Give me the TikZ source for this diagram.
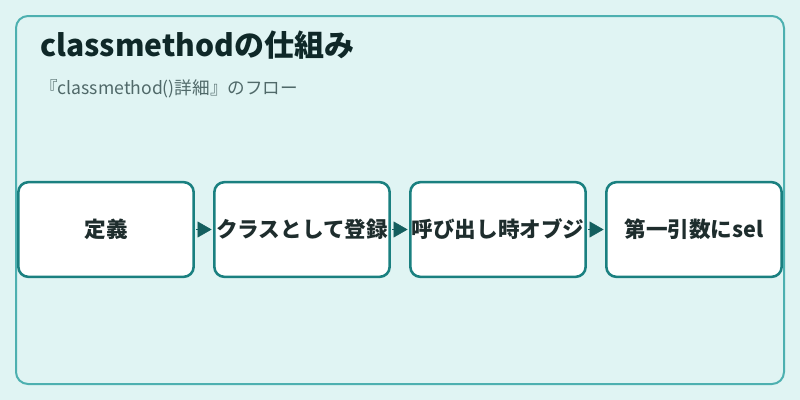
\documentclass[tikz,border=0pt]{standalone}
\usepackage{fontspec}
\setmainfont{Noto Sans CJK JP}
\usepackage{tikz}
\usetikzlibrary{arrows.meta,calc}
\tikzset{>=latex}
\definecolor{bgcol}{RGB}{224,244,243}
\definecolor{framecol}{RGB}{77,176,176}
\definecolor{boxcol}{RGB}{26,128,128}
\definecolor{arrowcol}{RGB}{20,95,95}
\definecolor{titlecol}{RGB}{15,40,40}
\definecolor{subcol}{RGB}{80,105,105}
\definecolor{textcol}{RGB}{30,45,45}
\tikzset{
  stepbox/.style={draw=boxcol, line width=1.9pt, fill=white, rounded corners=7.5pt,
    minimum width=131.5pt, minimum height=71pt, inner sep=0pt,
    font=\fontsize{16.2}{19}\selectfont\bfseries, text=textcol},
  flow/.style={draw=arrowcol, line width=0.4pt, -{Triangle[length=10.5pt,width=12pt]}, arrowcol}
}
\begin{document}
\begin{tikzpicture}[x=0.75pt, y=-0.75pt]
          \useasboundingbox (0,0) rectangle (800,400);
          \fill[bgcol] (0,0) rectangle (800,400);
          \draw[framecol, line width=1.5pt, rounded corners=9pt] (16,16) rectangle (784,384);

          % title and subtitle
          \node[anchor=base west, inner sep=0pt, text=titlecol, font=\fontsize{22.5}{26}\selectfont\bfseries] (title) at (40,56) {classmethodの仕組み};
          \node[anchor=base west, inner sep=0pt, text=subcol, font=\fontsize{13.2}{16}\selectfont] (subtitle) at (40,94) {『classmethod()詳細』のフロー};

          % steps
          \foreach \i/\label in {1/定義, 2/クラスとして登録, 3/呼び出し時オブジ, 4/第一引数にsel}
            {
              \pgfmathsetmacro{\cx}{106 + (\i-1)*196}
              \node[stepbox] (b\i) at (\cx,229.5) {\label};
            }
          \foreach \i [evaluate=\i as \j using int(\i+1)] in {1,2,3}
            \draw[flow] ($(b\i.east)+(1.5,0)$) -- ($(b\j.west)+(-1.5,0)$);
        \end{tikzpicture}
\end{document}
